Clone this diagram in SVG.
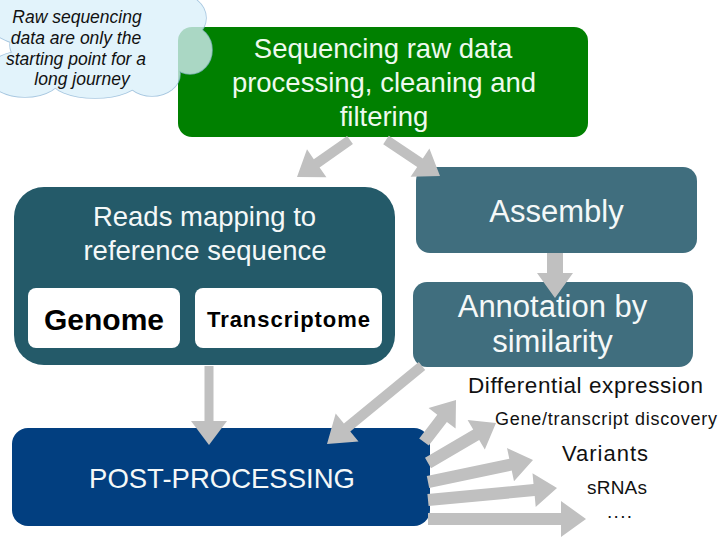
<svg xmlns="http://www.w3.org/2000/svg" width="720" height="540" viewBox="0 0 720 540">
<style>
text{font-family:"Liberation Sans",Arial,Helvetica,sans-serif;text-anchor:middle}
.w{fill:#f4f8f8;font-size:27.5px}
.g{fill:#eefaee;font-size:27.5px}
.big{fill:#f4f8f8;font-size:31px}
.lbl{fill:#111;text-anchor:start}
.cl{fill:#111;font-size:17.5px;font-style:italic}
.arr{fill:#c0c0c0}
.cs{fill:none;stroke:#8fb8d8;stroke-width:1.6}
.cf{fill:#daf0fb}
</style>
<rect width="720" height="540" fill="#ffffff"/>
<g id="n-processing">
<rect x="178" y="27" width="410" height="110" rx="14" fill="#008000"/>
<text class="g" x="383" y="58">Sequencing raw data</text>
<text class="g" x="384" y="92">processing, cleaning and</text>
<text class="g" x="384" y="126">filtering</text>
</g>
<g id="n-cloud">
<g opacity="0.78">
<ellipse class="cs" cx="30" cy="15" rx="45" ry="30"/>
<ellipse class="cs" cx="110" cy="10" rx="50" ry="28"/>
<ellipse class="cs" cx="172" cy="18" rx="34" ry="26"/>
<ellipse class="cs" cx="190" cy="50" rx="22" ry="24"/>
<ellipse class="cs" cx="152" cy="74" rx="28" ry="22"/>
<ellipse class="cs" cx="95" cy="80" rx="44" ry="18"/>
<ellipse class="cs" cx="25" cy="74" rx="38" ry="23"/>
<ellipse class="cs" cx="95" cy="45" rx="85" ry="35"/>
<ellipse class="cf" cx="30" cy="15" rx="45" ry="30"/>
<ellipse class="cf" cx="110" cy="10" rx="50" ry="28"/>
<ellipse class="cf" cx="172" cy="18" rx="34" ry="26"/>
<ellipse class="cf" cx="190" cy="50" rx="22" ry="24"/>
<ellipse class="cf" cx="152" cy="74" rx="28" ry="22"/>
<ellipse class="cf" cx="95" cy="80" rx="44" ry="18"/>
<ellipse class="cf" cx="25" cy="74" rx="38" ry="23"/>
<ellipse class="cf" cx="95" cy="45" rx="85" ry="35"/>
</g>
<text class="cl" x="77" y="23">Raw sequencing</text>
<text class="cl" x="76" y="44">data are only the</text>
<text class="cl" x="76" y="65">starting point for a</text>
<text class="cl" x="82" y="85">long journey</text>
</g>
<g id="n-mapping">
<rect x="14" y="187" width="381" height="178" rx="30" fill="#245a69"/>
<text class="w" x="204.5" y="226">Reads mapping to</text>
<text class="w" x="205" y="260">reference sequence</text>
</g>
<g id="n-genome">
<rect x="28" y="288" width="152" height="60" rx="8" fill="#ffffff"/>
<text x="104" y="330" font-size="30" font-weight="bold" fill="#000">Genome</text>
</g>
<g id="n-transcriptome">
<rect x="195" y="288" width="187" height="60" rx="8" fill="#ffffff"/>
<text x="288.5" y="327" font-size="22" font-weight="bold" fill="#000" textLength="163">Transcriptome</text>
</g>
<g id="n-assembly">
<rect x="416" y="167" width="281" height="86" rx="14" fill="#406e7e"/>
<text class="big" x="556.5" y="222">Assembly</text>
</g>
<g id="n-annotation">
<rect x="413" y="282" width="280" height="85" rx="14" fill="#406e7e"/>
<text class="big" x="552.5" y="317">Annotation by</text>
<text class="big" x="552.5" y="352">similarity</text>
</g>
<g id="n-post">
<rect x="12" y="428" width="418" height="98" rx="16" fill="#023f80"/>
<text class="w" x="222" y="488">POST-PROCESSING</text>
</g>
<g id="connectors">
<polygon class="arr" points="347.1,135.9 313.8,159.2 307.0,149.3 297,177 326.4,177.2 319.6,167.4 352.9,144.1"/>
<polygon class="arr" points="383.2,144.2 417.2,166.9 410.6,176.8 440,176 429.4,148.5 422.8,158.5 388.8,135.8"/>
<polygon class="arr" points="547,253 547,273 537,273 555,298 573,273 563,273 563,253"/>
<polygon class="arr" points="204.5,366 204.5,421 191,421 209,445 227,421 213.5,421 213.5,366"/>
<polygon class="arr" points="418.8,362.1 343.9,423.6 335.7,413.6 327,444 358.5,441.4 350.3,431.4 425.2,369.9"/>
<polygon class="arr" points="428.8,445.6 446.9,421.9 455.6,428.6 456,400 428.6,408.0 437.3,414.7 419.2,438.4"/>
<polygon class="arr" points="431.0,468.2 479.2,439.9 484.8,449.4 496,423 467.6,420.1 473.2,429.5 425.0,457.8"/>
<polygon class="arr" points="429.2,487.9 511.7,470.6 514.0,481.3 533,460 507.0,448.1 509.3,458.8 426.8,476.1"/>
<polygon class="arr" points="428.6,506.0 534.7,496.1 535.7,507.0 557,488 532.5,473.2 533.5,484.1 427.4,494.0"/>
<polygon class="arr" points="428,513 561,513 561,501 586,519 561,537 561,525 428,525"/>
</g>
<g id="outputs">
<text class="lbl" x="468" y="393" font-size="22.5" textLength="235">Differential expression</text>
<text class="lbl" x="495" y="425" font-size="18" textLength="222">Gene/transcript discovery</text>
<text class="lbl" x="562" y="461" font-size="22" textLength="86">Variants</text>
<text class="lbl" x="587" y="494" font-size="19" textLength="60">sRNAs</text>
<text class="lbl" x="607" y="518" font-size="19" textLength="25">....</text>
</g>
</svg>
